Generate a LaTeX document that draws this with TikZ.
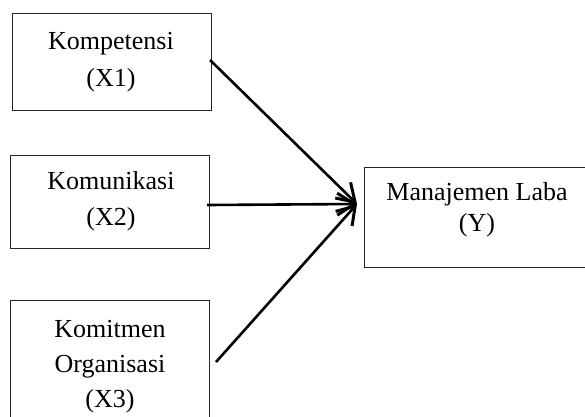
\documentclass[tikz,border=0pt]{standalone}
\usepackage{fontspec}
\setmainfont{Liberation Serif}
\usetikzlibrary{arrows.meta}
\begin{document}
\begin{tikzpicture}[x=1pt,y=-1pt,
  box/.style={draw=black!85,line width=1pt,rectangle,inner sep=0pt},
  lbl/.style={align=center,inner sep=0pt},
  link/.style={line width=2.6pt,-{Straight Barb[length=17pt,width=22pt,line width=3pt]}}]
\useasboundingbox (0,0) rectangle (585,416);
\clip (0,0) rectangle (585,416);
\fill[white] (0,0) rectangle (585,416);
% boxes
\node[box,minimum width=199pt,minimum height=97pt] (b1) at (111.5,61.5) {};
\node[box,minimum width=199pt,minimum height=93pt] (b2) at (109.5,201.5) {};
\node[box,minimum width=199pt,minimum height=126pt] (b3) at (109.5,363) {};
\node[box,minimum width=226pt,minimum height=100pt] (by) at (477,217) {};
% labels
\node[lbl,font=\fontsize{26}{37}\selectfont] (t1) at (111,62) {Kompetensi\\(X1)};
\node[lbl,font=\fontsize{26}{36}\selectfont] (t2) at (111,201.5) {Komunikasi\\(X2)};
\node[lbl,font=\fontsize{26}{35}\selectfont] (t3) at (110,367) {Komitmen\\Organisasi\\(X3)};
\node[lbl,font=\fontsize{26}{31}\selectfont] (ty) at (477,210) {Manajemen Laba\\(Y)};
% connectors
\coordinate (tip) at (357,204);
\coordinate (s1) at (210,60);
\coordinate (s2) at (207,205);
\coordinate (s3) at (216,362);
\draw[link] (s1) -- (tip);
\draw[link] (s2) -- (tip);
\draw[link] (s3) -- (tip);
\end{tikzpicture}
\end{document}
